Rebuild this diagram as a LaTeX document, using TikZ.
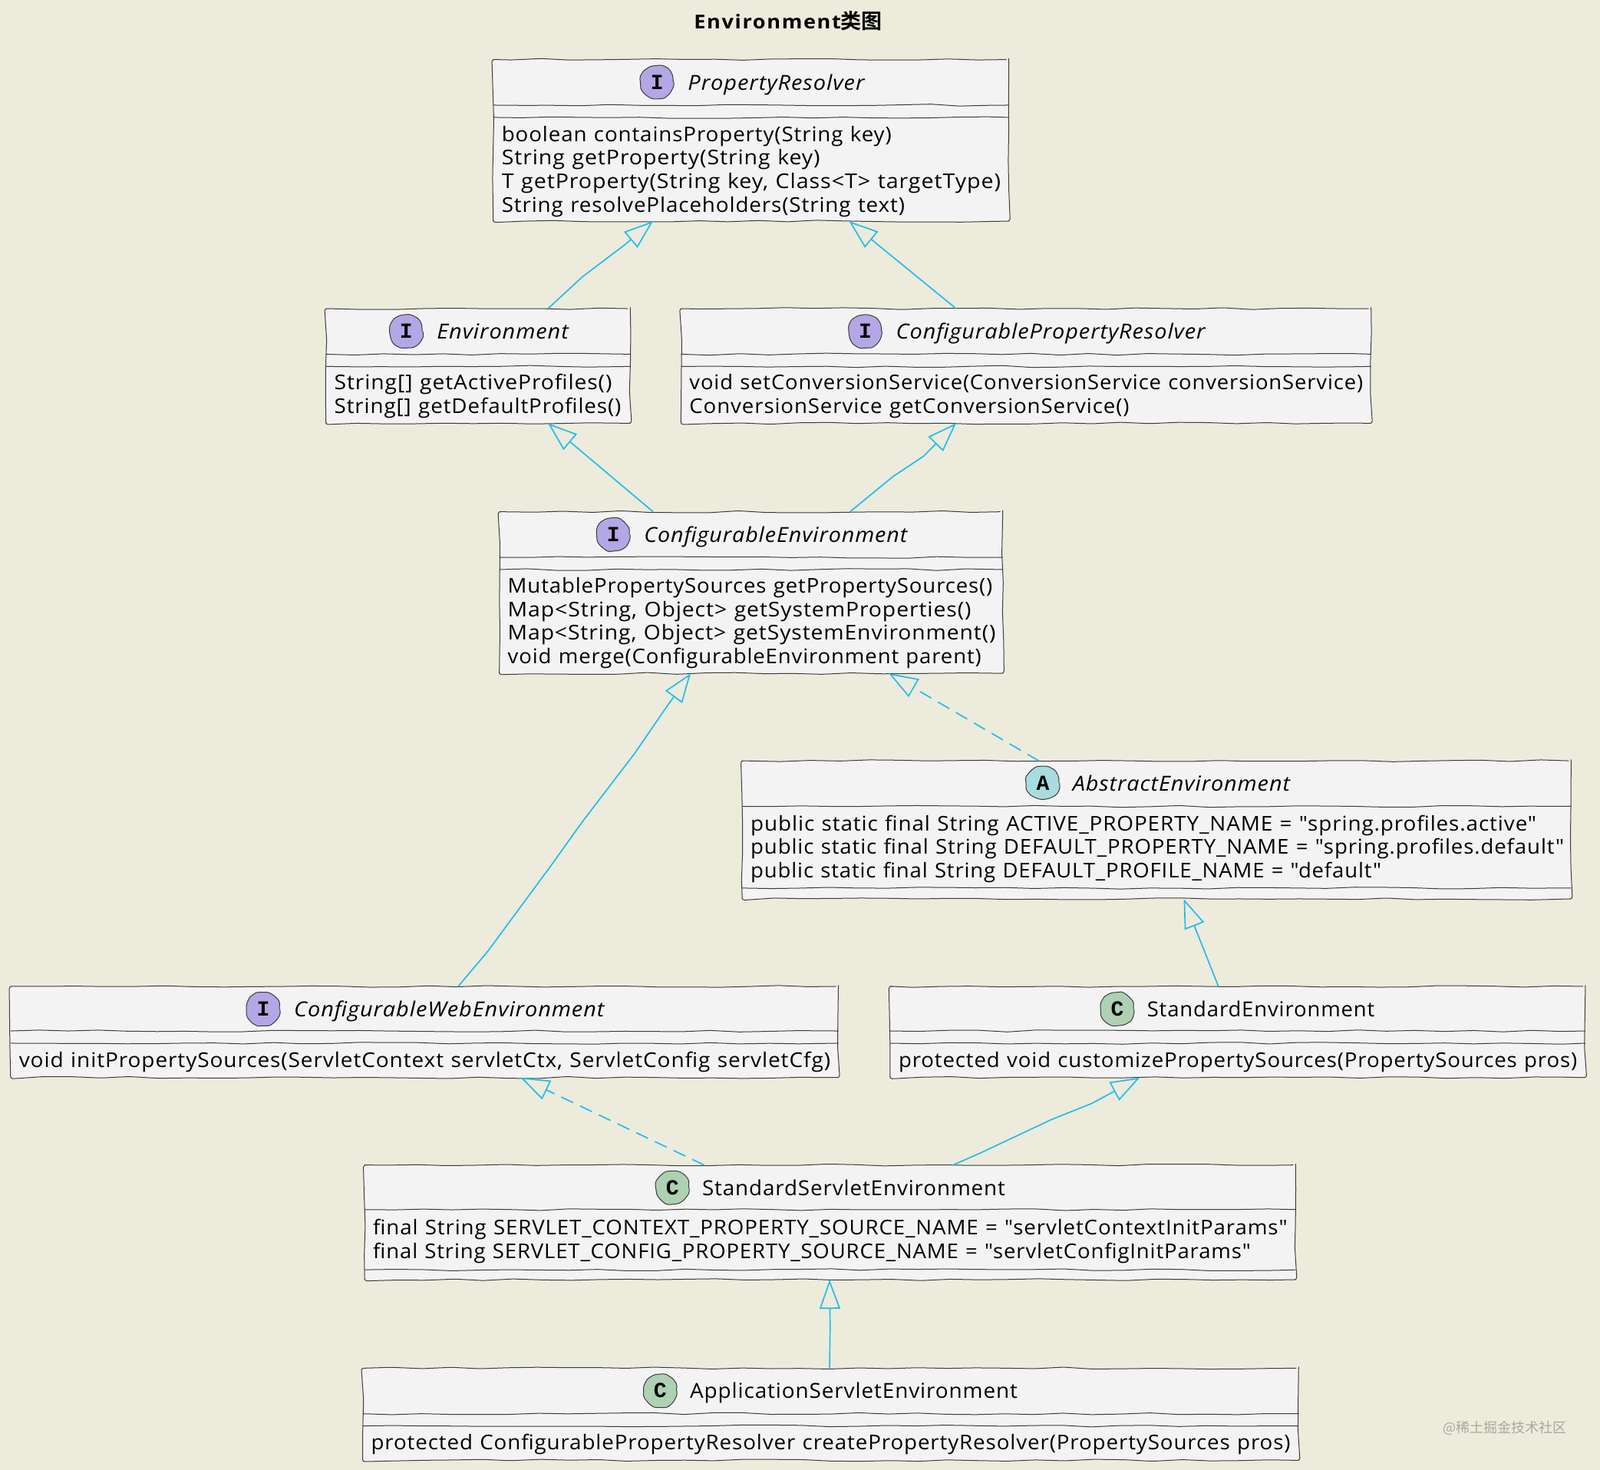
\documentclass[tikz,border=0pt]{standalone}
\usepackage{fontspec}
\setmainfont{Open Sans}
\newfontfamily\memf[LetterSpace=3.2,WordSpace=1.15]{Open Sans}
\newfontfamily\titf[LetterSpace=6]{Open Sans}
\newfontfamily\cjkb[BoldFont={Noto Sans CJK SC Bold}]{Noto Sans CJK SC}
\newfontfamily\cjkr{Noto Sans CJK SC}
\newfontfamily\iconf{Liberation Mono}
\usetikzlibrary{arrows.meta,decorations.pathmorphing,calc}
\definecolor{bgc}{HTML}{EDEBDC}
\definecolor{boxc}{HTML}{F3F3F3}
\definecolor{linec}{HTML}{3A3A3A}
\definecolor{arrc}{HTML}{22BDEB}
\definecolor{ifc}{HTML}{B4A7E5}
\definecolor{abc}{HTML}{A9DCDF}
\definecolor{clc}{HTML}{ADD1B2}
\definecolor{wmc}{HTML}{A9A89A}
\def\uu{1.3297}
\newlength\fwlen
% horizontally fit a line of text to a width given in picture units
\newcommand{\fw}[2]{\pgfmathsetlength\fwlen{#1*1.3297pt}\resizebox{\fwlen}{\height}{#2}}
\tikzset{
  wob/.style={decorate,decoration={random steps,segment length=38pt,amplitude=1.3pt}},
  classbox/.style={draw=linec,fill=boxc,line width=1pt,rounded corners=3pt,inner sep=0pt,outer sep=0pt,wob},
  sepline/.style={draw=linec,line width=1pt,wob},
  iconnode/.style={circle,draw=linec,line width=1pt,minimum size=42pt,inner sep=0pt,rounded corners=2pt,
     decorate,decoration={random steps,segment length=9pt,amplitude=1pt}},
  icontext/.style={font=\iconf\bfseries\fontsize{28pt}{28pt}\selectfont,text=black},
  ititle/.style={anchor=base west,inner sep=0pt,font=\memf\itshape\fontsize{27pt}{32pt}\selectfont},
  rtitle/.style={anchor=base west,inner sep=0pt,font=\memf\fontsize{27pt}{32pt}\selectfont},
  members/.style={anchor=west,inner sep=0pt,align=left,font=\memf\fontsize{26.5pt}{30.6pt}\selectfont},
  inh/.style={draw=arrc,line width=1.7pt,line join=round,-{Triangle[open,length=38pt,width=27pt,fill=bgc]}},
  real/.style={inh,dash pattern=on 17pt off 10pt},
}
\newcommand{\umlbox}[5]{\node[classbox,minimum width={(#4-#2-0.7)*\uu*1pt},minimum height={(#5-#3-0.7)*\uu*1pt}] (#1) at ({(#2+#4)/2},{(#3+#5)/2}) {};}
\newcommand{\umlsep}[2]{\draw[sepline] (#1.west |- 0,#2) -- (#1.east |- 0,#2);}
\newcommand{\umlicon}[5]{\node[iconnode,fill=#5] (#1) at (#2,#3) {}; \node[icontext] (#1t) at (#1) {#4};}
\begin{document}
\begin{tikzpicture}[x=1.3297pt,y=-1.3297pt]
\fill[bgc] (0,0) rectangle (1568,1440);
\useasboundingbox (0,0) rectangle (1568,1440);

\node[inner sep=0pt,anchor=base west,font=\titf\bfseries\fontsize{25pt}{30pt}\selectfont] (title) at (680,28) {\fw{144}{Environment}{\cjkb\bfseries\fontsize{27pt}{30pt}\selectfont 类图}};

% PropertyResolver
\umlbox{pr}{483}{58}{989}{217}
\umlsep{pr}{103}\umlsep{pr}{115}
\umlicon{pri}{644}{80.5}{I}{ifc}
\node[ititle] (prt) at (674,88) {\fw{173}{PropertyResolver}};
\node[members] (prm) at (491.5,168) {\fw{382}{boolean containsProperty(String key)}\\\fw{312}{String getProperty(String key)}\\\fw{489}{T getProperty(String key, Class<T> targetType)}\\\fw{395}{String resolvePlaceholders(String text)}};

% Environment
\umlbox{env}{319}{302}{618}{415}
\umlsep{env}{347}\umlsep{env}{359}
\umlicon{envi}{398}{324.5}{I}{ifc}
\node[ititle] (envt) at (428,332) {\fw{129}{Environment}};
\node[members] (envm) at (327.5,388) {\fw{272}{String[] getActiveProfiles()}\\\fw{281}{String[] getDefaultProfiles()}};

% ConfigurablePropertyResolver
\umlbox{cpr}{667}{302}{1344}{415}
\umlsep{cpr}{347}\umlsep{cpr}{359}
\umlicon{cpri}{848}{324.5}{I}{ifc}
\node[ititle] (cprt) at (878,332) {\fw{303}{ConfigurablePropertyResolver}};
\node[members] (cprm) at (675.5,388) {\fw{660}{void setConversionService(ConversionService conversionService)}\\\fw{431}{ConversionService getConversionService()}};

% ConfigurableEnvironment
\umlbox{ce}{489}{501}{983}{660}
\umlsep{ce}{546}\umlsep{ce}{558}
\umlicon{cei}{601}{523.5}{I}{ifc}
\node[ititle] (cet) at (631,531) {\fw{258}{ConfigurableEnvironment}};
\node[members] (cem) at (497.5,610.5) {\fw{475}{MutablePropertySources getPropertySources()}\\\fw{454}{Map<String, Object> getSystemProperties()}\\\fw{478}{Map<String, Object> getSystemEnvironment()}\\\fw{464}{void merge(ConfigurableEnvironment parent)}};

% AbstractEnvironment
\umlbox{abe}{727}{745}{1540}{881}
\umlsep{abe}{790}\umlsep{abe}{870}
\umlicon{abei}{1022}{767}{A}{abc}
\node[ititle] (abet) at (1051,775) {\fw{213}{AbstractEnvironment}};
\node[members] (abem) at (735.5,831.5) {\fw{770}{public static final String ACTIVE\_PROPERTY\_NAME = "spring.profiles.active"}\\\fw{797}{public static final String DEFAULT\_PROPERTY\_NAME = "spring.profiles.default"}\\\fw{618}{public static final String DEFAULT\_PROFILE\_NAME = "default"}};

% ConfigurableWebEnvironment
\umlbox{cwe}{10}{966}{822}{1056}
\umlsep{cwe}{1010}\umlsep{cwe}{1022}
\umlicon{cwei}{258}{988.5}{I}{ifc}
\node[ititle] (cwet) at (288,996) {\fw{304}{ConfigurableWebEnvironment}};
\node[members] (cwem) at (18.5,1040.5) {\fw{795}{void initPropertySources(ServletContext servletCtx, ServletConfig servletCfg)}};

% StandardEnvironment
\umlbox{ste}{872}{966}{1554}{1056}
\umlsep{ste}{1010}\umlsep{ste}{1022}
\umlicon{stei}{1095}{988.5}{C}{clc}
\node[rtitle] (stet) at (1124,996) {\fw{223}{StandardEnvironment}};
\node[members] (stem) at (880.5,1040.5) {\fw{665}{protected void customizePropertySources(PropertySources pros)}};

% StandardServletEnvironment
\umlbox{sse}{357}{1141}{1270}{1254}
\umlsep{sse}{1185}\umlsep{sse}{1244}
\umlicon{ssei}{659}{1163.5}{C}{clc}
\node[rtitle] (sset) at (688,1171) {\fw{297}{StandardServletEnvironment}};
\node[members] (ssem) at (365.5,1216) {\fw{896}{final String SERVLET\_CONTEXT\_PROPERTY\_SOURCE\_NAME = "servletContextInitParams"}\\\fw{860}{final String SERVLET\_CONFIG\_PROPERTY\_SOURCE\_NAME = "servletConfigInitParams"}};

% ApplicationServletEnvironment
\umlbox{ase}{355}{1340}{1273}{1431}
\umlsep{ase}{1385}\umlsep{ase}{1397}
\umlicon{asei}{647}{1362.5}{C}{clc}
\node[rtitle] (aset) at (676,1370) {\fw{321}{ApplicationServletEnvironment}};
\node[members] (asem) at (363.5,1415) {\fw{901}{protected ConfigurablePropertyResolver createPropertyResolver(PropertySources pros)}};

% connectors
\draw[inh] (537,0 |- env.north) -- (571,271) -- (612,240) -- (640,0 |- pr.south);
\draw[inh] (937,0 |- cpr.north) -- (832,0 |- pr.south);
\draw[inh] (640,0 |- ce.north) -- (537,0 |- env.south);
\draw[inh] (833,0 |- ce.north) -- (875,467) -- (905,447) -- (937,0 |- cpr.south);
\draw[inh] (449,0 |- cwe.north) -- (478,932) -- (540,848) -- (570,806) -- (622,738) -- (655,690) -- (677,0 |- ce.south);
\draw[real] (1018,0 |- abe.north) -- (871,0 |- ce.south);
\draw[inh] (1194,0 |- ste.north) -- (1160,0 |- abe.south);
\draw[real] (690,0 |- sse.north) -- (510,0 |- cwe.south);
\draw[inh] (934,0 |- sse.north) -- (962,1129) -- (1030,1097) -- (1070,1081) -- (1117,0 |- ste.south);
\draw[inh] (813,0 |- ase.north) -- (813.5,1300) -- (813,0 |- sse.south);

\node[inner sep=0pt,text=wmc,font=\cjkr\fontsize{18pt}{20pt}\selectfont] (wm) at (1474.5,1399) {@稀土掘金技术社区};
\end{tikzpicture}
\end{document}
